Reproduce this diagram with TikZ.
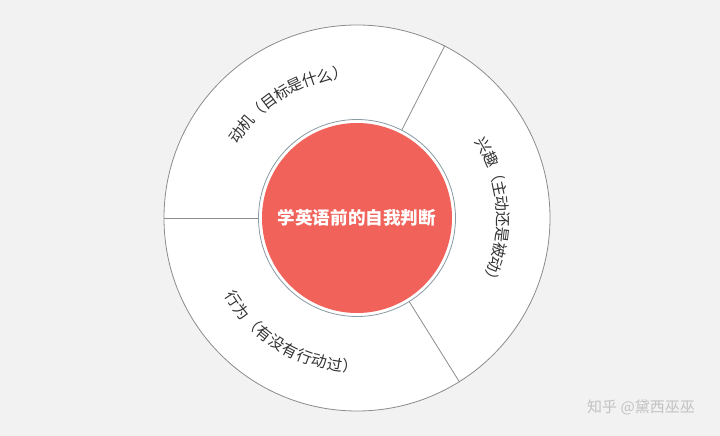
\documentclass[tikz,border=0pt]{standalone}
\usepackage{fontspec}
\newfontfamily\cjk{Noto Sans CJK SC}
\usetikzlibrary{calc}
\definecolor{bg}{HTML}{F2F2F2}
\definecolor{ringline}{HTML}{8C8C8C}
\definecolor{redfill}{HTML}{F1625A}
\definecolor{innerline}{HTML}{8A9BA3}
\definecolor{txt}{HTML}{333333}
\definecolor{mark}{HTML}{C2C2C2}
\tikzset{
  ch/.style={inner sep=0pt, outer sep=0pt, font=\cjk\fontsize{15.5}{16}\selectfont, text=txt},
  ring/.style={circle, draw=ringline, line width=0.8pt, fill=white, inner sep=0pt},
  divider/.style={draw=ringline, line width=0.8pt},
}
\begin{document}
\begin{tikzpicture}[x=1pt,y=1pt]
\fill[bg] (-357,-218) rectangle (363,218);
\useasboundingbox (-357,-218) rectangle (363,218);
\node[ring, minimum size=386pt] (outer) at (0,0) {};
\node[circle, draw=innerline, line width=0.8pt, fill=white, minimum size=197pt, inner sep=0pt] (innerring) at (0,0) {};
\node[circle, fill=redfill, minimum size=190pt, inner sep=0pt, font=\cjk\bfseries\fontsize{17.6}{18}\selectfont, text=white] (core) at (0,0) {学英语前的自我判断};
\draw[divider] (innerring.63) -- (outer.63);
\draw[divider] (innerring.180) -- (outer.180);
\draw[divider] (innerring.-58.5) -- (outer.-58.5);
% top-left label
\foreach \c [count=\i from 0] in {动,机,（,目,标,是,什,么,）}{
  \pgfmathsetmacro{\a}{121+(4-\i)*6.08}
  \node[ch, rotate=\a-90] (top\i) at (\a:146) {\c};
}
% right label
\foreach \c [count=\i from 0] in {兴,趣,（,主,动,还,是,被,动,）}{
  \pgfmathsetmacro{\a}{2.5+(4.5-\i)*6.08}
  \node[ch, rotate=\a-90] (right\i) at (\a:146) {\c};
}
% bottom-left label
\foreach \c [count=\i from 0] in {行,为,（,有,没,有,行,动,过,）}{
  \pgfmathsetmacro{\a}{240.3+(\i-4.5)*6.0}
  \node[ch, rotate=\a+90] (bottom\i) at (\a:148) {\c};
}
\node[inner sep=0pt, font=\cjk\fontsize{15}{16}\selectfont, text=mark] (watermark) at (284,-189) {知乎 @黛西巫巫};
\end{tikzpicture}
\end{document}
